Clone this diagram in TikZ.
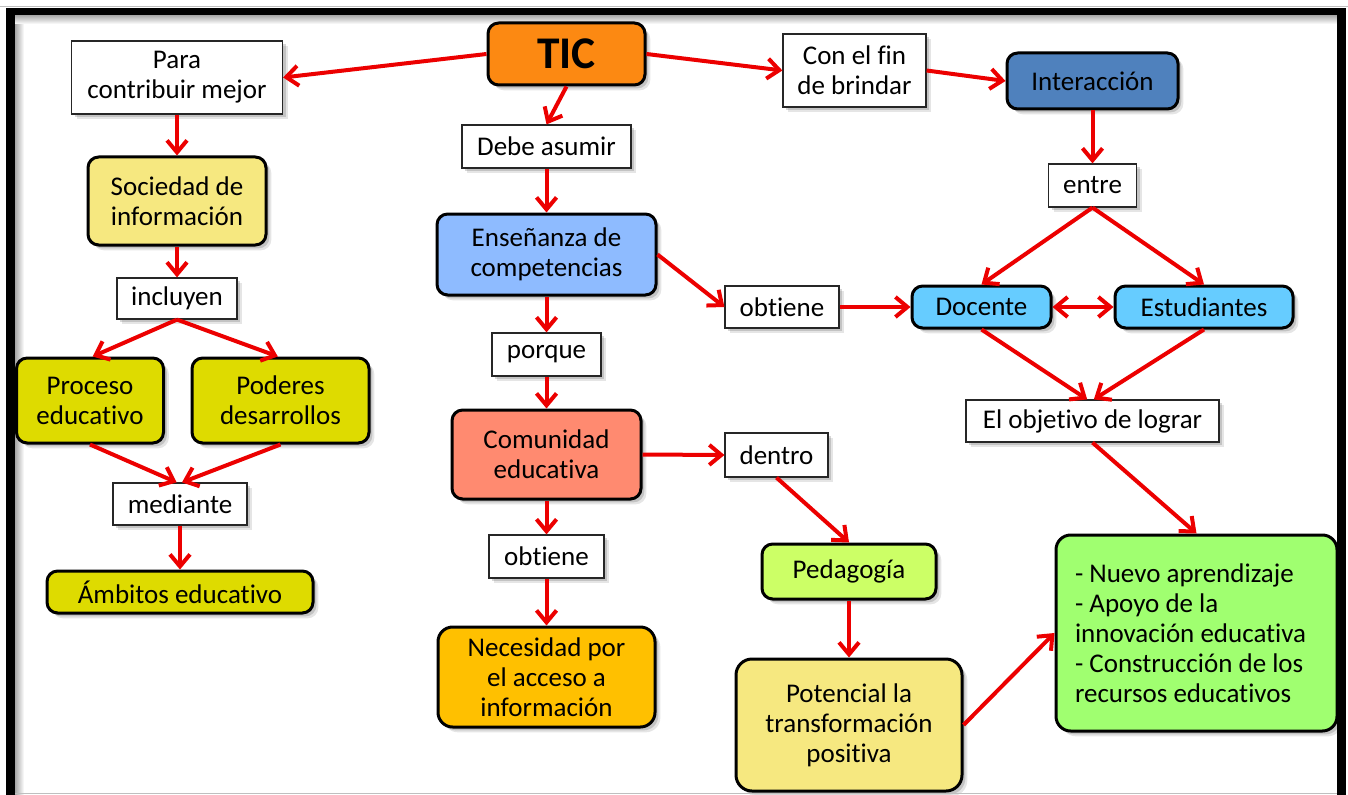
\documentclass[tikz,border=0pt]{standalone}
\usepackage{fontspec}
\setmainfont{Carlito}[Ligatures=NoCommon]
\usetikzlibrary{arrows.meta,shadows}

\definecolor{arrred}{RGB}{236,0,0}
\definecolor{ticorange}{RGB}{252,137,18}
\definecolor{paleyellow}{RGB}{246,232,128}
\definecolor{olive}{RGB}{222,219,0}
\definecolor{skyblue}{RGB}{142,187,255}
\definecolor{salmon}{RGB}{255,138,112}
\definecolor{amber}{RGB}{255,192,0}
\definecolor{lime}{RGB}{204,255,102}
\definecolor{mint}{RGB}{160,255,112}
\definecolor{steel}{RGB}{79,129,189}
\definecolor{cyanblue}{RGB}{102,204,255}

\newcommand\mainsz{\fontsize{20.25}{22.5}\selectfont}

\begin{document}
\begin{tikzpicture}[x=0.75pt,y=-0.75pt,
  softshadow/.style={
    drop shadow={shadow xshift=4pt,shadow yshift=-4pt,opacity=0.10,fill=black},
    drop shadow={shadow xshift=2.5pt,shadow yshift=-2.5pt,opacity=0.22,fill=black!70}},
  sz/.style 2 args={minimum width=#1*0.75pt,minimum height=#2*0.75pt},
  lbl/.style={draw=black!85,line width=0.9pt,fill=white,inner sep=0pt,align=center,font=\mainsz,softshadow},
  rbox/.style={draw=black,line width=2.25pt,rounded corners=8pt,inner sep=0pt,align=center,font=\mainsz,softshadow,fill=#1},
  arr/.style={draw=arrred,line width=3pt,-{Straight Barb[length=9pt,width=15pt]}},
  darr/.style={draw=arrred,line width=3pt,{Straight Barb[length=9pt,width=15pt]}-{Straight Barb[length=9pt,width=15pt]}}
]
% page
\fill[white] (0,0) rectangle (1348,795);
\useasboundingbox (0,0) rectangle (1348,795);

% inner shading along the frame
\shade[left color=black!35,right color=white] (15,15) rectangle (24,795);
\shade[top color=black!35,bottom color=white] (15,15) rectangle (1337,24);

% ---------- central column ----------
\node[rbox=ticorange,sz={157}{62},font=\fontsize{34}{40}\selectfont\bfseries] (tic) at (566.5,54) {TIC};
\node[lbl,sz={169}{43}] (debe) at (546.5,146.5) {Debe asumir};
\node[rbox=skyblue,sz={219}{81}] (ens) at (546.5,254.5) {Enseñanza de\\competencias};
\node[lbl,sz={109}{43}] (porq) at (546.5,354.5) {porque};
\node[rbox=salmon,sz={189}{89}] (com) at (546.5,454.5) {Comunidad\\educativa};
\node[lbl,sz={115}{43}] (obt2) at (546.5,556.5) {obtiene};
\node[rbox=amber,sz={217}{100},rounded corners=11pt] (nec) at (546.5,677) {Necesidad por\\el acceso a\\información};
\node[lbl,sz={114}{42}] (obt1) at (782,307) {obtiene};
\node[lbl,sz={103}{44}] (dent) at (776.5,455) {dentro};
\node[rbox=lime,sz={174}{55}] (ped) at (849,571.5) {Pedagogía};
\node[rbox=paleyellow,sz={226}{132},rounded corners=12pt] (pot) at (849,725) {Potencial la\\transformación\\positiva};

% ---------- left column ----------
\node[lbl,sz={211}{73}] (para) at (177,77.5) {Para\\contribuir mejor};
\node[rbox=paleyellow,sz={178}{88}] (soc) at (177,201) {Sociedad de\\información};
\node[lbl,sz={120}{41}] (incl) at (177,298.5) {incluyen};
\node[rbox=olive,sz={147}{85}] (proc) at (90,400.5) {Proceso\\educativo};
\node[rbox=olive,sz={177}{85}] (pod) at (280.5,400.5) {Poderes\\desarrollos};
\node[lbl,sz={134}{42}] (med) at (180,504) {mediante};
\node[rbox=olive,sz={266}{42}] (amb) at (180,592) {Ámbitos educativo};

% ---------- right column ----------
\node[lbl,sz={143}{73}] (fin) at (854.5,70.5) {Con el fin\\de brindar};
\node[rbox=steel,sz={171}{56}] (inter) at (1092.5,81) {Interacción};
\node[lbl,sz={88}{43}] (entre) at (1092.5,185.5) {entre};
\node[rbox=cyanblue,sz={139}{42}] (doc) at (981.5,307) {Docente};
\node[rbox=cyanblue,sz={178}{42}] (est) at (1204,307) {Estudiantes};
\node[lbl,sz={253}{42}] (obj) at (1092.5,421) {El objetivo de lograr};
\node[rbox=mint,minimum height=196*0.75pt,text width=243*0.75pt,inner xsep=19*0.75pt,align=flush left,rounded corners=11pt] (res) at (1196.5,633)
  {\spaceskip=0pt\xspaceskip=0pt\relax
   - Nuevo aprendizaje\\- Apoyo de la\\innovación educativa\\- Construcción de los\\recursos educativos};

% ---------- connectors ----------
\draw[arr] (tic.west) -- (para.east);
\draw[arr] (tic.east) -- (fin.west);
\draw[arr] (fin.east) -- (inter.west);
\draw[arr] (tic.south) -- (debe.north);

\draw[arr] (para.south) -- (soc.north);
\draw[arr] (soc.south) -- (incl.north);
\draw[arr] (incl.south) -- ([xshift=2pt]proc.north);
\draw[arr] (incl.south) -- ([xshift=-2pt]pod.north);
\draw[arr] (proc.south) -- ([xshift=-2.5pt]med.north);
\draw[arr] (pod.south) -- ([xshift=1.5pt]med.north);
\draw[arr] (med.south) -- (amb.north);

\draw[arr] (debe.south) -- (ens.north);
\draw[arr] (ens.south) -- (porq.north);
\draw[arr] (ens.east) -- (obt1.west);
\draw[arr] (obt1.east) -- (doc.west);
\draw[arr] (porq.south) -- (com.north);
\draw[arr] (com.east) -- (dent.west);
\draw[arr] (com.south) -- (obt2.north);
\draw[arr] (obt2.south) -- (nec.north);
\draw[arr] (dent.south) -- (ped.north);
\draw[arr] (ped.south) -- (pot.north);
\draw[arr] (pot.east) -- (res.west);

\draw[arr] (inter.south) -- (entre.north);
\draw[arr] (entre.south) -- (doc.north);
\draw[arr] (entre.south) -- (est.north);
\draw[darr] (doc.east) -- (est.west);
\draw[arr] (doc.south) -- ([xshift=-4pt]obj.north);
\draw[arr] (est.south) -- ([xshift=1pt]obj.north);
\draw[arr] (obj.south) -- (res.north);

% ---------- frame ----------
\fill[black] (6,8) rectangle (1346,15);
\fill[black] (6,8) rectangle (15,795);
\fill[black] (1337,8) rectangle (1346,795);
\draw[black!25,line width=0.8pt] (0,6.5) -- (1348,6.5);
\draw[black!25,line width=0.8pt] (15,793.5) -- (1337,793.5);
\end{tikzpicture}
\end{document}
